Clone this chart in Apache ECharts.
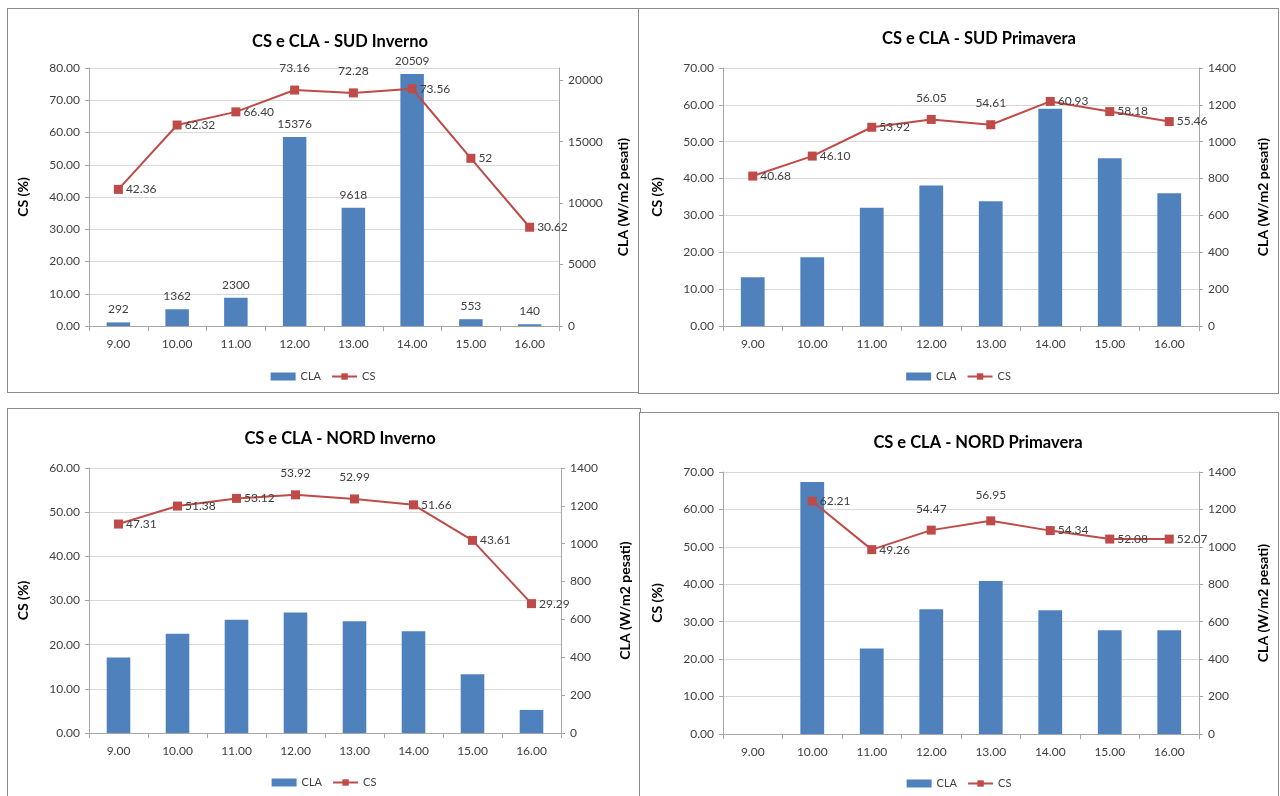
<!DOCTYPE html>
<html><head><meta charset="utf-8">
<script src="https://cdn.jsdelivr.net/npm/echarts@6/dist/echarts.min.js"></script>
<style>
html,body{margin:0;padding:0;background:#fff}
body{width:1280px;height:796px;overflow:hidden;position:relative}
.c{position:absolute;border:1px solid #8c8c8c;box-sizing:border-box;background:#fff}
</style></head><body>
<div id="c1" class="c" style="left:7px;top:8px;width:632px;height:385px"></div>
<div id="c2" class="c" style="left:638px;top:8px;width:641px;height:386px"></div>
<div id="c3" class="c" style="left:7px;top:408px;width:634px;height:392px"></div>
<div id="c4" class="c" style="left:639px;top:412px;width:640px;height:390px"></div>
<script>
// ---- data ----
var hours = ['9.00','10.00','11.00','12.00','13.00','14.00','15.00','16.00'];

var sudInvernoCLA = [292, 1362, 2300, 15376, 9618, 20509, 553, 140];
var sudInvernoCS = [42.36, 62.32, 66.40, 73.16, 72.28, 73.56, 52, 30.62];
var sudInvernoCSText = ['42.36','62.32','66.40','73.16','72.28','73.56','52','30.62'];

var sudPrimaveraCLA = [265, 373, 642, 762, 677, 1179, 910, 720];
var sudPrimaveraCS = [40.68, 46.10, 53.92, 56.05, 54.61, 60.93, 58.18, 55.46];
var sudPrimaveraCSText = ['40.68','46.10','53.92','56.05','54.61','60.93','58.18','55.46'];

var nordInvernoCLA = [399, 525, 598, 637, 591, 537, 311, 122];
var nordInvernoCS = [47.31, 51.38, 53.12, 53.92, 52.99, 51.66, 43.61, 29.29];
var nordInvernoCSText = ['47.31','51.38','53.12','53.92','52.99','51.66','43.61','29.29'];

var nordPrimaveraCLA = [null, 1346, 457, 666, 817, 661, 554, 554];
var nordPrimaveraCS = [null, 62.21, 49.26, 54.47, 56.95, 54.34, 52.08, 52.07];
var nordPrimaveraCSText = ['', '62.21','49.26','54.47','56.95','54.34','52.08','52.07'];

// ---- layout / style ----
var FONT = 'Lato';
var TXT = '#404040';
var AXIS = '#a6a6a6';
var GRID = '#d9d9d9';
var BLUE = '#4f81bd';
var RED = '#be4b48';

var charts = [
  {id:'c1', title:'CS e CLA - SUD Inverno', titleX:327, titleY:19,
   grid:{left:80,right:77,top:59,bottom:66}, legendTop:357,
   csMax:80, claMax:21000, claInt:5000, hideMax:true,
   cla:sudInvernoCLA, cs:sudInvernoCS, csText:sudInvernoCSText, barLabels:true,
   pos:['right','right','right','top','top','right','right','right'], topDist:[0,0,0,11,11,0,0,0]},
  {id:'c2', title:'CS e CLA - SUD Primavera', titleX:335, titleY:16,
   grid:{left:84,right:77,top:59,bottom:67}, legendTop:357,
   csMax:70, claMax:1400, claInt:200, hideMax:false,
   cla:sudPrimaveraCLA, cs:sudPrimaveraCS, csText:sudPrimaveraCSText, barLabels:false,
   pos:['right','right','right','top','top','right','right','right'], topDist:[0,0,0,11,11,0,0,0]},
  {id:'c3', title:'CS e CLA - NORD Inverno', titleX:327, titleY:16,
   grid:{left:80,right:79,top:59,bottom:66}, legendTop:363,
   csMax:60, claMax:1400, claInt:200, hideMax:false,
   cla:nordInvernoCLA, cs:nordInvernoCS, csText:nordInvernoCSText, barLabels:false,
   pos:['right','right','right','top','top','right','right','right'], topDist:[0,0,0,11,11,0,0,0]},
  {id:'c4', title:'CS e CLA - NORD Primavera', titleX:333, titleY:16,
   grid:{left:83,right:78,top:59,bottom:67}, legendTop:360,
   csMax:70, claMax:1400, claInt:200, hideMax:false,
   cla:nordPrimaveraCLA, cs:nordPrimaveraCS, csText:nordPrimaveraCSText, barLabels:false,
   pos:['right','right','right','top','top','right','right','right'], topDist:[0,0,0,11,15,0,0,0]}
];

function build(cfg){
  var el = document.getElementById(cfg.id);
  var chart = echarts.init(el, null, {renderer:'canvas'});
  var lineData = cfg.cs.map(function(v,i){
    var p = cfg.pos[i];
    return {value:v, label:{position:p, distance: p==='top' ? cfg.topDist[i] : 3}};
  });
  var nameStyle = {fontFamily:FONT, fontSize:14, fontWeight:'bold', color:'#000'};
  var opt = {
    backgroundColor:'#fff',
    animation:false,
    textStyle:{fontFamily:FONT},
    title:{text:cfg.title, left:cfg.titleX, top:cfg.titleY, textAlign:'center',
      textStyle:{fontFamily:FONT, fontSize:16.5, fontWeight:'bold', color:'#000'}},
    legend:{top:cfg.legendTop, left:'center', itemWidth:25, itemHeight:8, itemGap:10,
      textStyle:{fontFamily:FONT, fontSize:11, color:TXT},
      data:[{name:'CLA', icon:'rect'}, {name:'CS'}]},
    grid:cfg.grid,
    xAxis:{type:'category', data:hours,
      axisLine:{lineStyle:{color:AXIS}},
      axisTick:{show:true, length:5, lineStyle:{color:AXIS}},
      axisLabel:{fontFamily:FONT, fontSize:12, color:TXT, margin:12}},
    yAxis:[
      {type:'value', min:0, max:cfg.csMax, interval:10,
       name:'CS (%)', nameLocation:'middle', nameGap:59, nameRotate:90,
       nameTextStyle:nameStyle,
       axisLine:{show:true, lineStyle:{color:AXIS}},
       axisTick:{show:true, length:4, lineStyle:{color:AXIS}},
       splitLine:{lineStyle:{color:GRID}},
       axisLabel:{fontFamily:FONT, fontSize:12, color:TXT, margin:9,
         formatter:function(v){return v.toFixed(2);}}},
      {type:'value', min:0, max:cfg.claMax, interval:cfg.claInt,
       name:'CLA (W/m2 pesati)', nameLocation:'middle', nameGap:57, nameRotate:90,
       nameTextStyle:nameStyle,
       axisLine:{show:true, lineStyle:{color:AXIS}},
       axisTick:{show:true, length:4, lineStyle:{color:AXIS}},
       splitLine:{show:false},
       axisLabel:{fontFamily:FONT, fontSize:12, color:TXT, margin:9, showMaxLabel:!cfg.hideMax,
         formatter:function(v){return String(v);}}}
    ],
    series:[
      {name:'CLA', type:'bar', yAxisIndex:1, data:cfg.cla, barWidth:'40%',
       itemStyle:{color:BLUE},
       label:{show:cfg.barLabels, position:'top', distance:7, fontFamily:FONT, fontSize:12, color:TXT}},
      {name:'CS', type:'line', yAxisIndex:0, data:lineData, connectNulls:false,
       symbol:'rect', symbolSize:9, lineStyle:{color:RED, width:2}, itemStyle:{color:RED},
       label:{show:true, fontFamily:FONT, fontSize:12, color:TXT,
         formatter:function(p){return cfg.csText[p.dataIndex];}}}
    ]
  };
  chart.setOption(opt);
}
charts.forEach(build);
</script>
</body></html>
